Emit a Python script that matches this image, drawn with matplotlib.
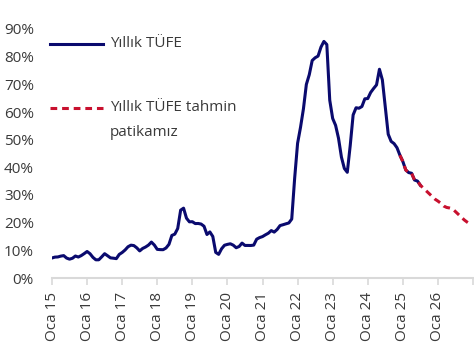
"""Yillik TUFE ve tahmin patikasi grafigi."""

import matplotlib

matplotlib.use("Agg")

import matplotlib.pyplot as plt
import numpy as np

# Yillik TUFE (%), Ocak 2015 - Temmuz 2025
actual = [
    7.24, 7.55, 7.61, 7.91, 8.09, 7.20, 6.81, 7.14, 7.95, 7.58, 8.10, 8.81,
    9.58, 8.78, 7.46, 6.57, 6.58, 7.64, 8.79, 8.05, 7.28, 7.16, 7.00, 8.53,
    9.22, 10.13, 11.29, 11.87, 11.72, 10.90, 9.79, 10.68, 11.20, 11.90, 12.98, 11.92,
    10.35, 10.26, 10.23, 10.85, 12.15, 15.39, 15.85, 17.90, 24.52, 25.24, 21.62, 20.30,
    20.35, 19.67, 19.71, 19.50, 18.71, 15.72, 16.65, 15.01, 9.26, 8.55, 10.56, 11.84,
    12.15, 12.37, 11.86, 10.94, 11.39, 12.62, 11.76, 11.77, 11.75, 11.89, 14.03, 14.60,
    14.97, 15.61, 16.19, 17.14, 16.59, 17.53, 18.95, 19.25, 19.58, 19.89, 21.31, 36.08,
    48.69, 54.44, 61.14, 69.97, 73.50, 78.62, 79.60, 80.21, 83.45, 85.51, 84.39, 64.27,
    57.68, 55.18, 50.51, 43.68, 39.59, 38.21, 47.83, 58.94, 61.53, 61.36, 61.98, 64.77,
    64.86, 67.07, 68.50, 69.80, 75.45, 71.60, 61.78, 51.97, 49.38, 48.58, 47.09, 44.38,
    42.12, 39.05, 38.10, 37.86, 35.41, 35.05, 33.52,
]

# Tahmin patikasi (%), Aralik 2024 - Aralik 2026
forecast_start = 119
forecast = [
    44.38,
    42.12, 39.05, 38.10, 37.86, 35.41, 35.05, 33.52, 32.5, 31.5, 30.5, 29.5, 28.5,
    27.8, 27.0, 26.0, 25.5, 25.3, 25.0, 24.0, 23.0, 22.0, 21.0, 20.2, 19.5,
]

year_labels = ["Oca 15", "Oca 16", "Oca 17", "Oca 18", "Oca 19", "Oca 20",
               "Oca 21", "Oca 22", "Oca 23", "Oca 24", "Oca 25", "Oca 26", ""]
y_ticks = list(range(0, 100, 10))

plt.rcParams["font.family"] = ["Open Sans", "DejaVu Sans"]
text_color = "#3a3a3a"
axis_color = "#d9d9d9"
blue = "#0a0a6e"
red = "#c8102e"
fs = 11
dash = (0, (2.2, 1.6))

fig = plt.figure(figsize=(4.74, 3.54), dpi=100)
ax = fig.add_axes([52 / 474, 76 / 354, 421 / 474, 249 / 354])

x_actual = np.arange(len(actual))
x_forecast = np.arange(forecast_start, forecast_start + len(forecast))

ax.plot(x_actual, actual, color=blue, linewidth=2.2, solid_joinstyle="round")
ax.plot(x_forecast, forecast, color=red, linewidth=2.2, linestyle=dash)

ax.set_xlim(0, 144)
ax.set_ylim(0, 90)
ax.set_xticks(np.arange(0, 145, 12))
ax.set_xticklabels(year_labels, rotation=90, fontsize=fs, color=text_color)
ax.set_yticks(y_ticks)
ax.set_yticklabels([f"{v}%" for v in y_ticks], fontsize=fs, color=text_color)

for side in ["top", "right", "left"]:
    ax.spines[side].set_visible(False)
ax.spines["bottom"].set_color(axis_color)
ax.spines["bottom"].set_linewidth(1.5)
ax.tick_params(axis="x", length=5, width=1.2, color=axis_color, pad=5)
ax.tick_params(axis="y", length=0, pad=13)

# legend, drawn by hand so the handle sits on the first line of a two-line label
tr = ax.transAxes
ax.plot([-0.005, 0.121], [0.940, 0.940], color=blue, linewidth=2.2,
        transform=tr, clip_on=False)
ax.text(0.138, 0.940, "Yıllık TÜFE", transform=tr, va="center", ha="left",
        fontsize=fs, color=text_color)
ax.plot([-0.005, 0.121], [0.683, 0.683], color=red, linewidth=2.2, linestyle=dash,
        transform=tr, clip_on=False)
ax.text(0.138, 0.683, "Yıllık TÜFE tahmin", transform=tr, va="center", ha="left",
        fontsize=fs, color=text_color)
ax.text(0.138, 0.586, "patikamız", transform=tr, va="center", ha="left",
        fontsize=fs, color=text_color)

fig.savefig("out.png", dpi=100)
plt.close(fig)
